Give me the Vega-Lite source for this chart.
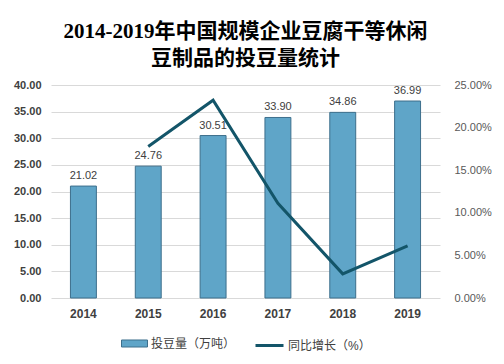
{
  "$schema": "https://vega.github.io/schema/vega-lite/v6.json",
  "width": 504,
  "height": 364,
  "autosize": {"type": "fit", "contains": "padding"},
  "padding": {"left": 13, "right": 12, "top": 21, "bottom": 12},
  "background": "white",
  "title": {
    "text": ["2014-2019年中国规模企业豆腐干等休闲", "豆制品的投豆量统计"],
    "font": "Liberation Serif, Noto Sans CJK SC",
    "fontSize": 21,
    "fontWeight": "bold",
    "color": "#000000",
    "anchor": "middle",
    "lineHeight": 27,
    "offset": 10
  },
  "data": {
    "values": [
      {"year": "2014", "amount": 21.02, "growth": null},
      {"year": "2015", "amount": 24.76, "growth": 0.1779},
      {"year": "2016", "amount": 30.51, "growth": 0.2322},
      {"year": "2017", "amount": 33.90, "growth": 0.1111},
      {"year": "2018", "amount": 34.86, "growth": 0.0283},
      {"year": "2019", "amount": 36.99, "growth": 0.0611}
    ]
  },
  "encoding": {
    "x": {
      "field": "year",
      "type": "ordinal",
      "title": null,
      "scale": {"paddingInner": 0.6, "paddingOuter": 0.3},
      "axis": {
        "labelAngle": 0,
        "labelFontWeight": "bold",
        "labelFontSize": 12,
        "labelColor": "#404040",
        "labelPadding": 10,
        "ticks": false,
        "domain": false,
        "labelFont": "Liberation Sans, Noto Sans CJK SC"
      }
    }
  },
  "layer": [
    {
      "encoding": {
        "y": {
          "field": "amount",
          "type": "quantitative",
          "title": null,
          "scale": {"domain": [0, 40]},
          "axis": {
            "values": [0, 5, 10, 15, 20, 25, 30, 35, 40],
            "format": ".2f",
            "labelFontSize": 11,
            "labelFontWeight": "bold",
            "labelColor": "#404040",
            "labelPadding": 10,
            "ticks": false,
            "domain": false,
            "grid": true,
            "gridColor": "#d9d9d9",
            "labelFont": "Liberation Sans, Noto Sans CJK SC"
          }
        }
      },
      "layer": [
        {
          "mark": {
            "type": "bar",
            "color": {
              "gradient": "linear",
              "x1": 0, "x2": 1, "y1": 0, "y2": 0,
              "stops": [
                {"offset": 0, "color": "#6aafd1"},
                {"offset": 1, "color": "#5799bd"}
              ]
            },
            "stroke": "#3d6f8c",
            "strokeWidth": 1
          },
          "encoding": {
            "fill": {
              "datum": "投豆量（万吨）",
              "type": "nominal",
              "scale": {"range": ["#5fa5c8"]},
              "legend": {
                "title": null,
                "symbolType": "M-1,-0.27H1V0.27H-1Z",
                "symbolSize": 676,
                "symbolStrokeColor": "#3d6f8c",
                "symbolStrokeWidth": 1,
                "labelFontSize": 12,
                "labelOffset": 3,
                "labelColor": "#404040",
                "labelFont": "Liberation Sans, Noto Sans CJK SC"
              }
            }
          }
        },
        {
          "mark": {
            "type": "text",
            "dy": -10,
            "fontSize": 11,
            "color": "#404040",
            "font": "Liberation Sans, Noto Sans CJK SC"
          },
          "encoding": {
            "text": {"field": "amount", "type": "quantitative", "format": ".2f"}
          }
        }
      ]
    },
    {
      "mark": {"type": "line", "strokeWidth": 3, "color": "#135569"},
      "transform": [{"filter": "datum.growth != null"}],
      "encoding": {
        "y": {
          "field": "growth",
          "type": "quantitative",
          "title": null,
          "scale": {"domain": [0, 0.25]},
          "axis": {
            "orient": "right",
            "values": [0, 0.05, 0.1, 0.15, 0.2, 0.25],
            "format": ".2%",
            "labelFontSize": 11,
            "labelColor": "#595959",
            "labelPadding": 14,
            "ticks": false,
            "domain": false,
            "grid": false,
            "labelFont": "Liberation Sans, Noto Sans CJK SC"
          }
        },
        "stroke": {
          "datum": "同比增长（%）",
          "type": "nominal",
          "scale": {"range": ["#135569"]},
          "legend": {
            "title": null,
            "symbolType": "stroke",
            "symbolSize": 784,
            "symbolStrokeWidth": 3,
            "labelFontSize": 12,
            "labelOffset": 3,
            "labelColor": "#404040",
            "labelFont": "Liberation Sans, Noto Sans CJK SC"
          }
        }
      }
    }
  ],
  "resolve": {"scale": {"y": "independent", "fill": "independent", "stroke": "independent"}},
  "config": {
    "view": {"stroke": null},
    "legend": {
      "orient": "bottom",
      "direction": "horizontal",
      "offset": 11,
      "padding": 0,
      "layout": {"bottom": {"anchor": "middle", "direction": "horizontal", "margin": 18}}
    }
  }
}
